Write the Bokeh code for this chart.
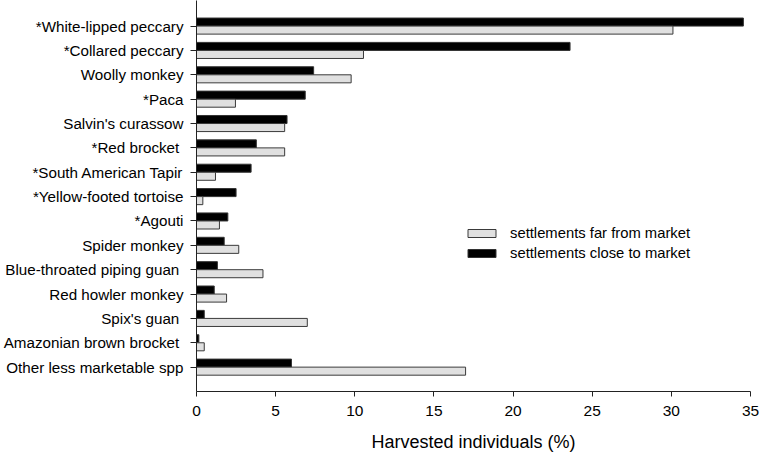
from bokeh.plotting import figure
from bokeh.models import ColumnDataSource, Range1d, FixedTicker, Legend, LegendItem
from bokeh.transform import dodge
from bokeh.embed import file_html
from bokeh.resources import INLINE

species = [
    "*White-lipped peccary", "*Collared peccary", "Woolly monkey", "*Paca",
    "Salvin's curassow", "*Red brocket ", "*South American Tapir",
    "*Yellow-footed tortoise", "*Agouti", "Spider monkey",
    "Blue-throated piping guan ", "Red howler monkey", "Spix's guan ",
    "Amazonian brown brocket ", "Other less marketable spp",
]
far_market = [30.1, 10.55, 9.77, 2.46, 5.57, 5.57, 1.2, 0.4, 1.45, 2.67, 4.2, 1.9, 7.0, 0.49, 17.0]
close_market = [34.55, 23.6, 7.4, 6.87, 5.72, 3.78, 3.45, 2.5, 1.98, 1.75, 1.32, 1.12, 0.49, 0.15, 6.0]
x_ticks = [0, 5, 10, 15, 20, 25, 30, 35]

n = len(species)
pos = [n - i for i in range(n)]
src = ColumnDataSource(dict(pos=pos, far=far_market, close=close_market, name=species))

FONT = "Liberation Sans"
BAR_H = 0.33

p = figure(width=760, height=459, output_backend="svg", toolbar_location=None,
           x_range=Range1d(0, 35), y_range=Range1d(0, 16.05),
           min_border_left=194, min_border_right=10, min_border_top=0, min_border_bottom=68)
p.outline_line_color = None
p.border_fill_color = "white"
p.xgrid.visible = False
p.ygrid.visible = False

r_close = p.hbar(y=dodge("pos", BAR_H / 2, range=p.y_range), left=0, right="close",
                 height=BAR_H, source=src, fill_color="#000000", line_color="#333333", line_width=1)
r_far = p.hbar(y=dodge("pos", -BAR_H / 2, range=p.y_range), left=0, right="far",
               height=BAR_H, source=src, fill_color="#e0e0e0", line_color="#3a3a3a", line_width=1)

ya = p.yaxis[0]
ya.ticker = FixedTicker(ticks=pos)
ya.major_label_overrides = {v: s for v, s in zip(pos, species)}
ya.minor_tick_line_color = None
ya.major_tick_in = 0
ya.major_tick_out = 6
ya.major_label_standoff = 7
ya.axis_line_color = "#222222"
ya.major_tick_line_color = "#222222"
ya.major_label_text_font = FONT
ya.major_label_text_font_size = "15.2px"
ya.major_label_text_color = "#000000"

xa = p.xaxis[0]
xa.ticker = FixedTicker(ticks=x_ticks)
xa.minor_tick_line_color = None
xa.major_tick_in = 0
xa.major_tick_out = 5
xa.major_label_standoff = 9
xa.axis_line_color = "#222222"
xa.major_tick_line_color = "#222222"
xa.major_label_text_font = FONT
xa.major_label_text_font_size = "15.5px"
xa.major_label_text_color = "#000000"
xa.axis_label = "Harvested individuals (%)"
xa.axis_label_text_font = FONT
xa.axis_label_text_font_size = "18px"
xa.axis_label_text_font_style = "normal"
xa.axis_label_text_color = "#000000"
xa.axis_label_standoff = 13

legend = Legend(items=[
    LegendItem(label="settlements far from market", renderers=[r_far]),
    LegendItem(label="settlements close to market", renderers=[r_close]),
], location=(268, 128))
legend.border_line_color = None
legend.background_fill_alpha = 0
legend.padding = 0
legend.margin = 0
legend.spacing = 0
legend.glyph_width = 35
legend.glyph_height = 10
legend.label_height = 20
legend.label_standoff = 11
legend.label_text_font = FONT
legend.label_text_font_size = "14.8px"
legend.label_text_color = "#000000"
p.add_layout(legend, "center")

open("out.html", "w").write(file_html(p, INLINE))
